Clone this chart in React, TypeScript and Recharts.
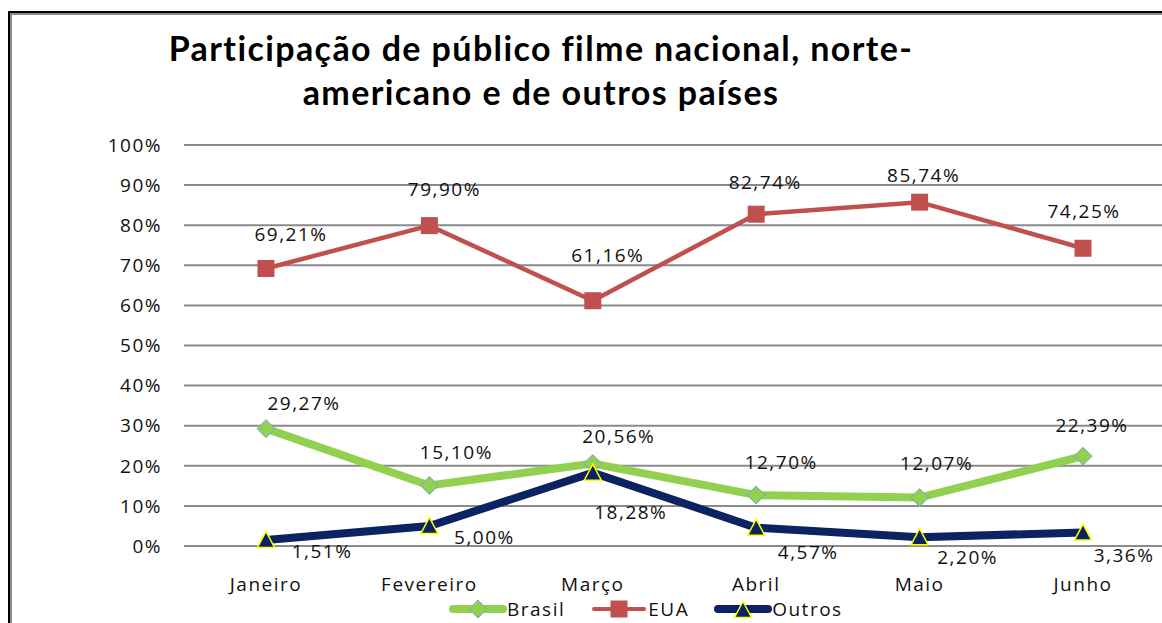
import { LineChart, Line, XAxis, YAxis, CartesianGrid, LabelList } from "recharts";

const months = ["Janeiro", "Fevereiro", "Março", "Abril", "Maio", "Junho"];
const brasil = [29.27, 15.1, 20.56, 12.7, 12.07, 22.39];
const eua = [69.21, 79.9, 61.16, 82.74, 85.74, 74.25];
const outros = [1.51, 5.0, 18.28, 4.57, 2.2, 3.36];
const yTicks = [0, 10, 20, 30, 40, 50, 60, 70, 80, 90, 100];

const data = months.map((mes, i) => ({
  mes,
  Brasil: brasil[i],
  EUA: eua[i],
  Outros: outros[i],
}));

// label nudges (px) relative to each point, as placed in the original chart
const euaLabelNudge = [[25, -34], [15, -37], [15, -46], [9, -32], [4, -27], [1, -37]];
const brasilLabelNudge = [[38, -26], [27, -33], [26, -28], [25, -33], [17, -35], [9, -31]];
const outrosLabelNudge = [[56, 11], [55, 11], [38, 39], [52, 24], [48, 20], [41, 22]];

const FONT = "'Open Sans', sans-serif";
const GREEN = "#92D050";
const RED = "#C0504D";
const NAVY = "#0B2360";

const fmt = (v: number) => v.toFixed(2).replace(".", ",") + "%";

function diamond(cx: number, cy: number, r = 9) {
  return `${cx},${cy - r} ${cx + r},${cy} ${cx},${cy + r} ${cx - r},${cy}`;
}
function triangle(cx: number, cy: number, w = 17, h = 15) {
  return `${cx},${cy - h / 2 - 1} ${cx + w / 2},${cy + h / 2} ${cx - w / 2},${cy + h / 2}`;
}

function DiamondDot(p: any) {
  if (p.cx == null) return null;
  return <polygon key={p.index} points={diamond(p.cx, p.cy)} fill={GREEN} stroke="#7BA3D3" strokeWidth={1} />;
}
function SquareDot(p: any) {
  if (p.cx == null) return null;
  return <rect key={p.index} x={p.cx - 8.5} y={p.cy - 8.5} width={17} height={17} fill={RED} />;
}
function TriangleDot(p: any) {
  if (p.cx == null) return null;
  return <polygon key={p.index} points={triangle(p.cx, p.cy)} fill={NAVY} stroke="#FFFF00" strokeWidth={1.5} />;
}

function makeLabel(nudge: number[][]) {
  return (p: any) => {
    const [dx, dy] = nudge[p.index] ?? [0, -30];
    return (
      <text
        x={Number(p.x) + dx}
        y={Number(p.y) + dy}
        textAnchor="middle"
        dominantBaseline="central"
        fontFamily={FONT}
        fontSize={19}
        letterSpacing={1.5}
        fill="#111"
      >
        {fmt(Number(p.value))}
      </text>
    );
  };
}

function LegendItem({ label, kind, color }: { label: string; kind: string; color: string }) {
  return (
    <div style={{ display: "flex", alignItems: "center", marginRight: 25 }}>
      <svg width={58} height={22}>
        <line
          x1={4}
          y1={11}
          x2={54}
          y2={11}
          stroke={color}
          strokeWidth={kind === "square" ? 4 : 8}
          strokeLinecap="round"
        />
        {kind === "diamond" && <polygon points={diamond(29, 11)} fill={GREEN} stroke="#7BA3D3" strokeWidth={1} />}
        {kind === "square" && <rect x={20.5} y={2.5} width={17} height={17} fill={RED} />}
        {kind === "triangle" && <polygon points={triangle(29, 12)} fill={NAVY} stroke="#FFFF00" strokeWidth={1.5} />}
      </svg>
      <span style={{ fontFamily: FONT, fontSize: 19, letterSpacing: 1.5, color: "#111" }}>{label}</span>
    </div>
  );
}

export default function App() {
  return (
    <div
      style={{
        position: "fixed",
        left: 0,
        top: 0,
        width: 1162,
        height: 623,
        overflow: "hidden",
        background: "#fff",
      }}
    >
      <div
        style={{
          position: "absolute",
          left: 8,
          top: 11,
          width: 1300,
          height: 800,
          borderLeft: "2px solid #000",
          borderTop: "2px solid #000",
        }}
      >
        <div
          style={{
            width: "100%",
            height: "100%",
            borderLeft: "2px solid #8a8a8a",
            borderTop: "2px solid #8a8a8a",
          }}
        />
      </div>
      <svg style={{ position: "absolute", left: 0, top: 0 }} width={1162} height={130}>
        <text
          x={541}
          y={61}
          textAnchor="middle"
          fontFamily="Lato, sans-serif"
          fontWeight={700}
          fontSize={34}
          letterSpacing={1.4}
          fill="#000"
        >
          Participação de público filme nacional, norte-
        </text>
        <text
          x={541}
          y={105}
          textAnchor="middle"
          fontFamily="Lato, sans-serif"
          fontWeight={700}
          fontSize={34}
          letterSpacing={1.4}
          fill="#000"
        >
          americano e de outros países
        </text>
      </svg>
      <div style={{ position: "absolute", left: 0, top: 0 }}>
        <LineChart width={1200} height={623} data={data} margin={{ top: 145, right: 35, left: 0, bottom: 47 }}>
          <CartesianGrid vertical={false} stroke="#8a8a8a" strokeWidth={2} />
          <XAxis
            dataKey="mes"
            axisLine={false}
            tickLine={false}
            tickSize={0}
            tickMargin={32}
            height={30}
            padding={{ left: 82, right: 82 }}
            tick={{ fontFamily: FONT, fontSize: 19, fill: "#111", letterSpacing: 1.5 }}
          />
          <YAxis
            domain={[0, 100]}
            ticks={yTicks}
            width={184}
            axisLine={false}
            tickLine={false}
            tickSize={0}
            tickMargin={22}
            tickFormatter={(v) => `${v}%`}
            tick={{ fontFamily: FONT, fontSize: 19, fill: "#111", letterSpacing: 1.5 }}
          />
          <Line
            dataKey="EUA"
            stroke={RED}
            strokeWidth={4.5}
            dot={SquareDot}
            activeDot={false}
            isAnimationActive={false}
          >
            <LabelList dataKey="EUA" content={makeLabel(euaLabelNudge)} />
          </Line>
          <Line
            dataKey="Brasil"
            stroke={GREEN}
            strokeWidth={8}
            dot={DiamondDot}
            activeDot={false}
            isAnimationActive={false}
          >
            <LabelList dataKey="Brasil" content={makeLabel(brasilLabelNudge)} />
          </Line>
          <Line
            dataKey="Outros"
            stroke={NAVY}
            strokeWidth={8}
            dot={TriangleDot}
            activeDot={false}
            isAnimationActive={false}
          >
            <LabelList dataKey="Outros" content={makeLabel(outrosLabelNudge)} />
          </Line>
        </LineChart>
      </div>
      <div style={{ position: "absolute", left: 449, top: 596, display: "flex" }}>
        <LegendItem label="Brasil" kind="diamond" color={GREEN} />
        <LegendItem label="EUA" kind="square" color={RED} />
        <LegendItem label="Outros" kind="triangle" color={NAVY} />
      </div>
    </div>
  );
}
